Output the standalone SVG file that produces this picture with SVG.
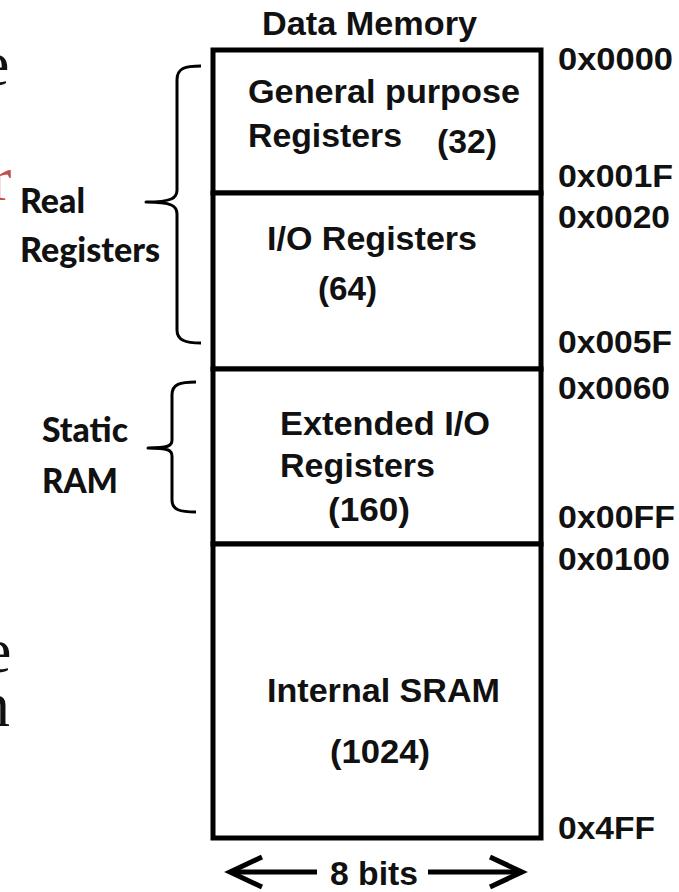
<svg xmlns="http://www.w3.org/2000/svg" width="679" height="892" viewBox="0 0 679 892">
<defs>
<style>
.blk{fill:#fff;stroke:#000;stroke-width:5}
.t{font-family:"Liberation Sans",Arial,sans-serif;font-weight:bold;font-size:34px;fill:#111}
.a{font-family:"Liberation Sans",Arial,sans-serif;font-weight:bold;font-size:32px;fill:#111}
.c{font-family:Lato,"Open Sans",sans-serif;font-weight:900;font-size:34px;fill:#111}
.s{font-family:"Liberation Serif","Times New Roman",serif;font-size:64px;fill:#111}
.br{fill:none;stroke:#000;stroke-width:3;stroke-linejoin:round}
.ar{fill:none;stroke:#000;stroke-width:5}
</style>
</defs>
<rect width="679" height="892" fill="#fff"/>

<g id="slide-fragments">
<text class="s" x="-19" y="85">e</text>
<text class="s" x="-10" y="200" style="fill:#c0504d">r</text>
<text class="s" x="-17" y="672">e</text>
<text class="s" x="-22" y="726">n</text>
</g>

<g id="title">
<text class="t" x="262" y="35" textLength="215" lengthAdjust="spacingAndGlyphs">Data Memory</text>
</g>

<g id="block-gpr">
<rect class="blk" x="213" y="50" width="328" height="143"/>
<text class="t" x="248" y="103" textLength="272" lengthAdjust="spacingAndGlyphs">General purpose</text>
<text class="t" x="248" y="147" textLength="154" lengthAdjust="spacingAndGlyphs">Registers</text>
<text class="t" x="437" y="153" textLength="60" lengthAdjust="spacingAndGlyphs">(32)</text>
</g>

<g id="block-io">
<rect class="blk" x="213" y="193" width="328" height="176"/>
<text class="t" x="267" y="250" textLength="210" lengthAdjust="spacingAndGlyphs">I/O Registers</text>
<text class="t" x="318" y="300" textLength="59" lengthAdjust="spacingAndGlyphs">(64)</text>
</g>

<g id="block-extio">
<rect class="blk" x="213" y="369" width="328" height="175"/>
<text class="t" x="280" y="435" textLength="210" lengthAdjust="spacingAndGlyphs">Extended I/O</text>
<text class="t" x="280" y="477" textLength="155" lengthAdjust="spacingAndGlyphs">Registers</text>
<text class="t" x="328" y="521" textLength="82" lengthAdjust="spacingAndGlyphs">(160)</text>
</g>

<g id="block-sram">
<rect class="blk" x="213" y="544" width="328" height="294"/>
<text class="t" x="267" y="702" textLength="233" lengthAdjust="spacingAndGlyphs">Internal SRAM</text>
<text class="t" x="330" y="763" textLength="100" lengthAdjust="spacingAndGlyphs">(1024)</text>
</g>

<g id="addresses">
<text class="a" x="558" y="70" textLength="115" lengthAdjust="spacingAndGlyphs">0x0000</text>
<text class="a" x="558" y="187" textLength="115" lengthAdjust="spacingAndGlyphs">0x001F</text>
<text class="a" x="558" y="228" textLength="112" lengthAdjust="spacingAndGlyphs">0x0020</text>
<text class="a" x="558" y="353" textLength="114" lengthAdjust="spacingAndGlyphs">0x005F</text>
<text class="a" x="558" y="399" textLength="112" lengthAdjust="spacingAndGlyphs">0x0060</text>
<text class="a" x="558" y="528" textLength="117" lengthAdjust="spacingAndGlyphs">0x00FF</text>
<text class="a" x="558" y="570" textLength="112" lengthAdjust="spacingAndGlyphs">0x0100</text>
<text class="a" x="558" y="839" textLength="97" lengthAdjust="spacingAndGlyphs">0x4FF</text>
</g>

<g id="label-real-registers">
<text class="c" x="20" y="213" textLength="65" lengthAdjust="spacingAndGlyphs">Real</text>
<text class="c" x="20" y="262" textLength="140" lengthAdjust="spacingAndGlyphs">Registers</text>
</g>

<g id="label-static-ram">
<text class="c" x="42" y="442" textLength="86" lengthAdjust="spacingAndGlyphs">Static</text>
<text class="c" x="42" y="493" textLength="76" lengthAdjust="spacingAndGlyphs">RAM</text>
</g>

<g id="label-width">
<text class="t" x="330" y="885" textLength="88" lengthAdjust="spacingAndGlyphs">8 bits</text>
</g>

<g id="connectors">
<path class="br" d="M 201 66 C 185 66 177 68 177 80 L 177 190 C 177 198 172 202 146 202 C 172 202 177 206 177 214 L 177 330 C 177 340 185 343 201 343"/>
<path class="br" d="M 196 382 C 180 382 172 384 172 395 L 172 440 C 172 446 168 448 148 448 C 168 448 172 450 172 456 L 172 500 C 172 510 180 512 196 512"/>
<path class="ar" d="M 262 857 L 230 872 L 262 887"/>
<path class="ar" d="M 230 872 L 317 872"/>
<path class="ar" d="M 428 872 L 522 872"/>
<path class="ar" d="M 490 857 L 522 872 L 490 887"/>
</g>
</svg>
